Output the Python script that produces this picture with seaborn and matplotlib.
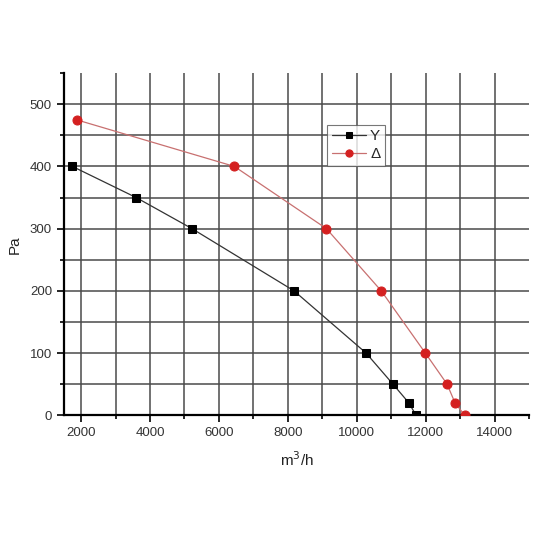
import numpy as np
import pandas as pd
import seaborn as sns
import matplotlib.pyplot as plt
from matplotlib.ticker import MultipleLocator

# fan curves
flow_y = [1750, 3600, 5220, 8180, 10270, 11050, 11510, 11720]
pa_y = [400, 350, 300, 200, 100, 50, 20, 0]
flow_d = [1870, 6450, 9120, 10710, 11990, 12620, 12850, 13130]
pa_d = [475, 400, 300, 200, 100, 50, 20, 0]
series_names = ["Y", "Δ"]

df = pd.concat([
    pd.DataFrame({"flow": flow_y, "pa": pa_y, "conn": series_names[0]}),
    pd.DataFrame({"flow": flow_d, "pa": pa_d, "conn": series_names[1]}),
])

sns.set_style("white")
plt.rcParams["font.family"] = ["Liberation Sans", "DejaVu Sans"]

fig = plt.figure(figsize=(5.5, 5.5), dpi=100)
ax = fig.add_axes([0.116, 0.245, 0.846, 0.622])

ax.set_xlim(1500, 15000)
ax.set_ylim(0, 550)
ax.xaxis.set_major_locator(MultipleLocator(2000))
ax.xaxis.set_minor_locator(MultipleLocator(1000))
ax.yaxis.set_major_locator(MultipleLocator(100))
ax.yaxis.set_minor_locator(MultipleLocator(50))

for x in np.arange(2000, 14001, 1000):
    ax.axvline(x, color="#4a4a4a", lw=1.1, zorder=1)
for y in np.arange(50, 501, 50):
    ax.axhline(y, color="#4a4a4a", lw=1.1, zorder=1)

sns.lineplot(data=df[df.conn == "Y"], x="flow", y="pa", ax=ax, color="#333333",
             lw=0.9, marker="s", markersize=5.5, markerfacecolor="black",
             markeredgecolor="black", label="Y", sort=False, zorder=3)
sns.lineplot(data=df[df.conn == "Δ"], x="flow", y="pa", ax=ax, color="#c87070",
             lw=0.9, marker="o", markersize=6.5, markerfacecolor="#d42020",
             markeredgecolor="#d42020", label="Δ", sort=False, zorder=3)

for side in ["top", "right"]:
    ax.spines[side].set_visible(False)
for side in ["left", "bottom"]:
    ax.spines[side].set_color("black")
    ax.spines[side].set_linewidth(1.6)

ax.tick_params(which="both", direction="out", color="black", width=1.2,
               labelsize=9.5, labelcolor="#333333", left=True, bottom=True)
ax.tick_params(which="major", length=5)
ax.tick_params(which="minor", length=3)

ax.set_xlabel("m$^3$/h", fontsize=11, color="#222222", labelpad=8)
ax.set_ylabel("Pa", fontsize=11, color="#222222", labelpad=6)

leg = ax.legend(loc="upper left", bbox_to_anchor=(0.55, 0.872), fontsize=11,
                frameon=True, fancybox=False, edgecolor="#555555",
                handlelength=2.2, handletextpad=0.3, borderpad=0.3,
                labelspacing=0.25, markerscale=0.8)
leg.get_frame().set_linewidth(0.8)

fig.savefig("out.png", dpi=100, facecolor="white")
